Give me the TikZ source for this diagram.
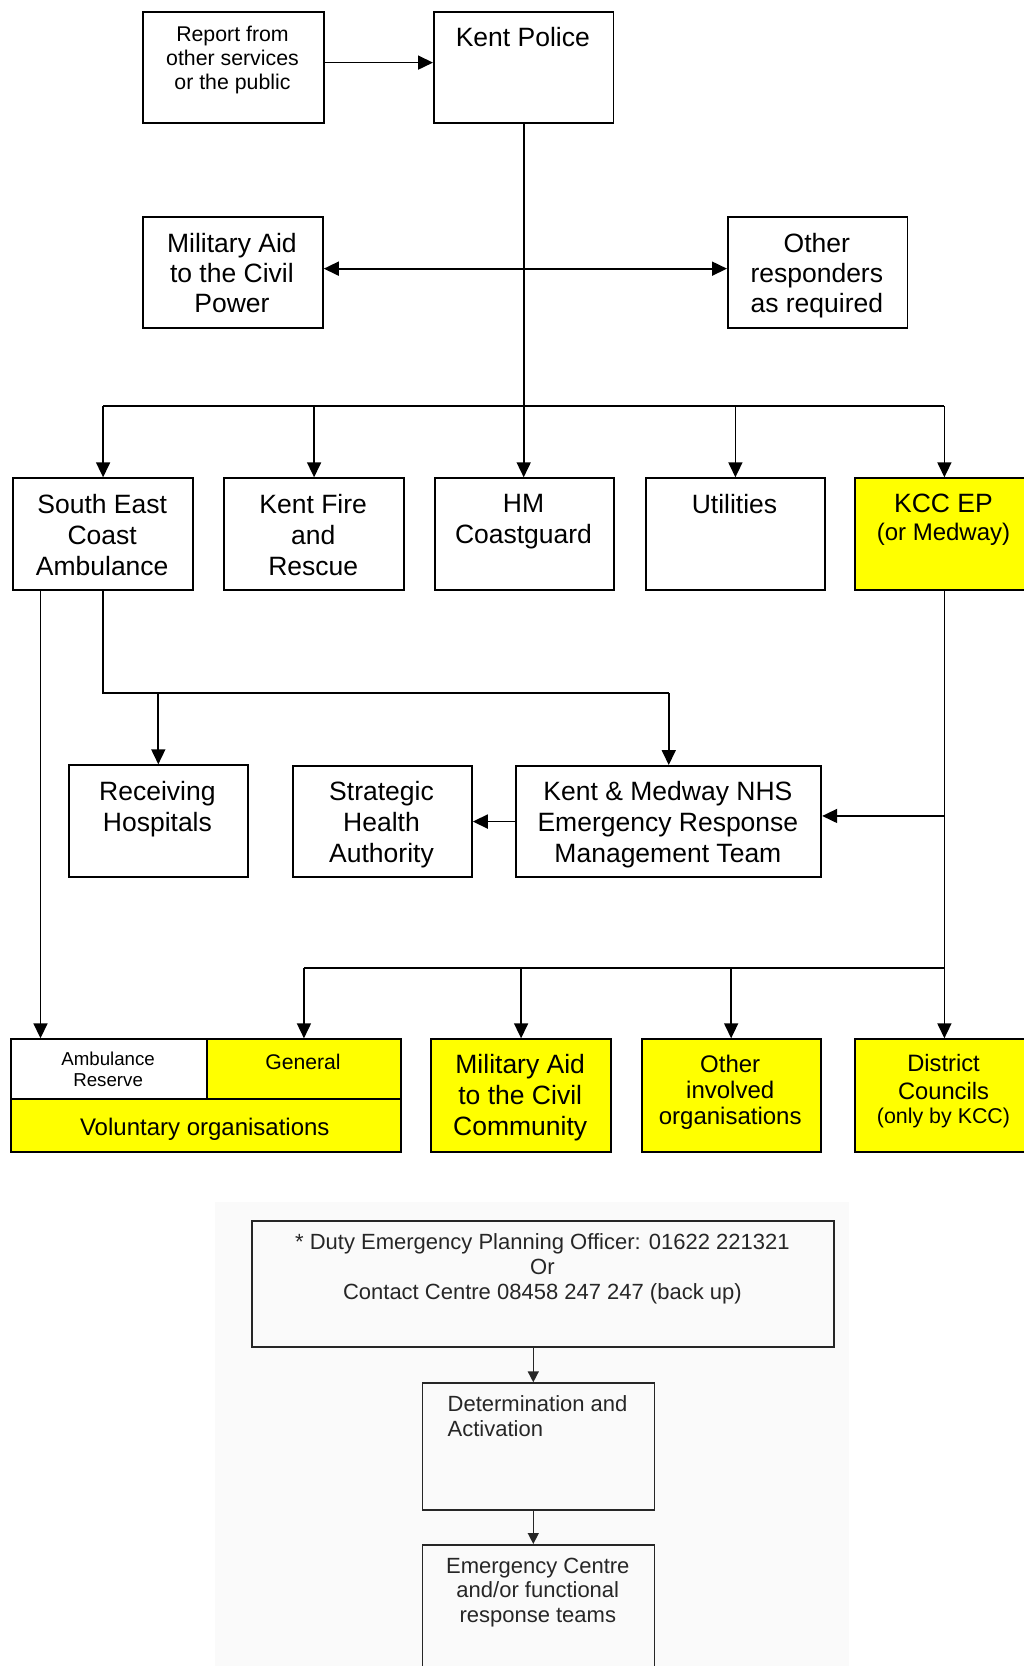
\documentclass[tikz,border=0pt]{standalone}
\usepackage{fontspec}
\setmainfont{Liberation Sans}
\usetikzlibrary{arrows.meta,calc}
\definecolor{kyellow}{RGB}{255,255,0}
\definecolor{bgpale}{RGB}{250,250,250}
\begin{document}
\begin{tikzpicture}[x=1pt,y=-1pt,
 box/.style={draw, line width=1.8pt, inner sep=0, anchor=north west, minimum width=179.6pt, minimum height=111.4pt},
 ybox/.style={box, fill=kyellow},
 conn/.style={line width=1.7pt},
 arr/.style={conn, -{Triangle[length=15pt,width=14pt]}},
 darr/.style={conn, {Triangle[length=15pt,width=14pt]}-{Triangle[length=15pt,width=14pt]}},
 big/.style={font=\fontsize{26.5}{30.8}\selectfont, align=center, inner sep=0, anchor=north},
 small/.style={font=\fontsize{21.3}{24.3}\selectfont, align=center, inner sep=0, anchor=north},
 mid/.style={font=\fontsize{24}{26.3}\selectfont, align=center, inner sep=0, anchor=north},
 gbox/.style={draw=black!85, line width=1.5pt, inner sep=0, anchor=north west, minimum width=231.9pt},
 gtxt/.style={font=\fontsize{22}{24.8}\selectfont, text=black!85, inner sep=0, align=center, anchor=north},
 garr/.style={draw=black!85, line width=1.4pt, -{Triangle[length=11pt,width=11pt]}},
]
\useasboundingbox (0,0) rectangle (1024,1666);
\clip (0,0) rectangle (1024,1666);
\fill[white] (0,0) rectangle (1024,1666);
\fill[bgpale] (215,1201.7) rectangle (849,1666);

% ---- top boxes
\node[box, minimum width=181.6pt, minimum height=111.6pt] (report) at (141.7,10.7) {};
\node[box, minimum height=111.6pt] (kp) at (433,10.7) {};
\node[small] (report-t) at (232.5,25.5) {Report from\\other services\\or the public};
\node[big] (kp-t) at (522.8,27) {Kent Police};

\node[box, minimum width=180.3pt, minimum height=111.3pt] (mapower) at (141.7,215.7) {};
\node[box, minimum height=111.3pt] (other) at (727,215.7) {};
\node[big, font=\fontsize{26.5}{30.2}\selectfont] (mapower-t) at (231.9,232.7) {Military Aid\\to the Civil\\Power};
\node[big, font=\fontsize{26.5}{30.2}\selectfont] (other-t) at (816.8,232.7) {Other\\responders\\as required};

% ---- second row
\node[box] (seca) at (12.4,477.3) {};
\node[box] (fire) at (223.4,477.3) {};
\node[box] (hm) at (433.7,477.3) {};
\node[box] (util) at (644.7,477.3) {};
\node[ybox] (kcc) at (853.7,477.3) {};
\node[big] (seca-t) at (102.2,494.3) {South East\\Coast\\Ambulance};
\node[big] (fire-t) at (313.2,494.3) {Kent Fire\\and\\Rescue};
\node[big] (hm-t) at (523.5,494.3) {HM\\Coastguard};
\node[big] (util-t) at (734.5,494.3) {Utilities};
\node[big, font=\fontsize{26.5}{28}\selectfont] (kcc-t) at (943.5,493.7) {KCC EP\\\fontsize{24}{28}\selectfont (or Medway)};

% ---- third row
\node[box, minimum width=179pt] (recv) at (67.9,764.3) {};
\node[box, minimum width=179pt, minimum height=111.3pt] (sha) at (292,765) {};
\node[box, minimum width=305.1pt, minimum height=111.3pt] (nhs) at (515.3,765) {};
\node[big] (recv-t) at (157.4,781) {Receiving\\Hospitals};
\node[big] (sha-t) at (381.5,781) {Strategic\\Health\\Authority};
\node[big] (nhs-t) at (667.9,781) {Kent \& Medway NHS\\Emergency Response\\Management Team};

% ---- bottom row
\node[box, fill=white, minimum width=196.6pt, minimum height=59.4pt] (ar) at (9.8,1038.3) {};
\node[ybox, minimum width=193.3pt, minimum height=59.4pt] (gen) at (206.4,1038.3) {};
\node[ybox, minimum width=389.9pt, minimum height=53pt] (vol) at (9.8,1097.7) {};
\node[ybox, minimum height=112.4pt] (mac) at (430.4,1038.3) {};
\node[ybox, minimum width=178.9pt, minimum height=112.4pt] (oio) at (640.8,1038.3) {};
\node[ybox, minimum height=112.4pt] (dc) at (853.7,1038.3) {};
\node[align=center, inner sep=0, anchor=north, font=\fontsize{18.7}{20.7}\selectfont] (ar-t) at (108.1,1051.6) {Ambulance\\Reserve};
\node[small, font=\fontsize{21.2}{24}\selectfont] (gen-t) at (303,1053.7) {General};
\node[mid] (vol-t) at (204.8,1117.8) {Voluntary organisations};
\node[big] (mac-t) at (520.2,1054.3) {Military Aid\\to the Civil\\Community};
\node[mid] (oio-t) at (730.2,1054.5) {Other\\involved\\organisations};
\node[mid, font=\fontsize{23.7}{27.3}\selectfont] (dc-t) at (943.5,1054.5) {District\\Councils\\[-3pt]\fontsize{21.4}{24}\selectfont (only by KCC)};

% ---- connectors (top)
\draw[arr] ([yshift=4.8pt]report.east) -- ([yshift=4.8pt]report.east -| kp.west);
\draw[darr] ([yshift=3.6pt]mapower.east) -- ([yshift=3.6pt]mapower.east -| other.west);
\coordinate (bus) at (522.8,406);
\draw[arr] (kp.south) -- (kp.south |- hm.north);
\draw[conn, line width=1.9pt] (seca.north |- bus) -- (kcc.north |- bus);
\draw[arr] (seca.north |- bus) -- (seca.north);
\draw[arr] (fire.north |- bus) -- (fire.north);
\draw[arr] (util.north |- bus) -- (util.north);
\draw[arr] (kcc.north |- bus) -- (kcc.north);

% ---- SECA connectors
\coordinate (sl) at ([xshift=28.1pt]seca.south west);
\draw[arr] (sl) -- (sl |- ar.north);
\coordinate (j) at (0,693.3);
\draw[conn] (seca.south) -- (seca.south |- j) -- (nhs.north |- j);
\draw[arr] (recv.north |- j) -- (recv.north);
\draw[arr] (nhs.north |- j) -- (nhs.north);
\draw[arr] (nhs.west) -- (sha.east);

% ---- KCC connectors
\draw[arr] (kcc.south) -- (dc.north);
\coordinate (kn) at ([yshift=5.6pt]nhs.east);
\draw[arr] (kn -| kcc.south) -- (kn);
\coordinate (j2) at (0,967.7);
\draw[conn, line width=1.9pt] (gen.north |- j2) -- (dc.north |- j2);
\draw[arr] (gen.north |- j2) -- (gen.north);
\draw[arr] (mac.north |- j2) -- (mac.north);
\draw[arr] (oio.north |- j2) -- (oio.north);

% ---- bottom flow
\node[gbox, minimum width=582.1pt, minimum height=126pt] (duty) at (251.3,1220) {};
\node[gtxt] (duty-t) at (542.4,1233.5) {* Duty Emergency Planning Officer: 01622 221321\\Or\\Contact Centre 08458 247 247 (back up)};
\node[gbox, minimum height=127pt] (det) at (421.8,1382.3) {};
\node[gtxt, align=left, anchor=north west, font=\fontsize{22}{25.3}\selectfont] (det-t) at (447.5,1395) {Determination and\\Activation};
\node[gbox, minimum height=160pt] (emc) at (421.8,1544) {};
\node[gtxt, font=\fontsize{22}{24.7}\selectfont] (emc-t) at (537.8,1557.5) {Emergency Centre\\and/or functional\\response teams};
\coordinate (da) at ([xshift=-5.2pt]det.north);
\draw[garr] (da |- duty.south) -- (da);
\coordinate (db) at ([xshift=-5.2pt]emc.north);
\draw[garr] (db |- det.south) -- (db);
\end{tikzpicture}
\end{document}
